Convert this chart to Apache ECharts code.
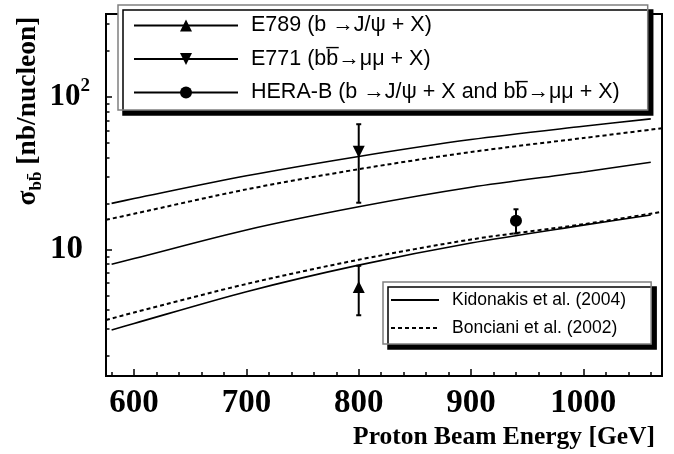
<!DOCTYPE html>
<html><head><meta charset="utf-8">
<script src="https://cdn.jsdelivr.net/npm/echarts@6/dist/echarts.min.js"></script>
<style>html,body{margin:0;padding:0;background:#fff}#c{width:674px;height:454px}</style>
</head><body><div id="c"></div>
<script>
// ---- data ----
const energyK = [580, 600, 700, 800, 900, 1000, 1060];
const kidonakisUpper = [20.0, 21.5, 30.3, 40.6, 52.4, 64.0, 71.5];
const kidonakisCentral = [7.98, 8.7, 13.4, 19.0, 25.5, 32.1, 37.2];
const kidonakisLower = [2.96, 3.27, 5.28, 7.88, 11.0, 14.4, 16.8];
const energyB = [575, 600, 700, 800, 900, 1000, 1070];
const boncianiUpper = [15.6, 17.1, 24.7, 33.5, 43.4, 53.6, 62.1];
const boncianiLower = [3.44, 3.86, 5.93, 8.55, 11.6, 14.6, 17.6];

const e789 = [800, 5.66];  const e789Err = [3.7, 7.8];
const e771 = [800, 43.6];  const e771Err = [20.2, 66];
const heraB = [940, 15.4]; const heraBErr = [12.7, 18.3];

const xMajorTicks = [600, 700, 800, 900, 1000];
const xMinorTicks = [580, 620, 640, 660, 680, 720, 740, 760, 780, 820, 840, 860, 880, 920, 940, 960, 980, 1020, 1040, 1060];
const yMajorTicks = [10, 100];
const yMinorTicks = [2, 3, 4, 5, 6, 7, 8, 9, 20, 30, 40, 50, 60, 70, 80, 90, 200, 300];

const nameK = 'Kidonakis et al. (2004)';
const nameB = 'Bonciani et al. (2002)';
const nameE789 = 'E789 (b \u2192J/\u03c8 + X)';
const nameE771 = 'E771 (bb\u0305\u2192\u03bc\u03bc + X)';
const nameHera = 'HERA-B (b \u2192J/\u03c8 + X and bb\u0305\u2192\u03bc\u03bc + X)';

const zip = (xs, ys) => xs.map((x, i) => [x, ys[i]]);
const X0 = 575, X1 = 1070, Y0 = 1.48, Y1 = 348;
const serif = 'Liberation Serif', sans = 'Liberation Sans';

const chart = echarts.init(document.getElementById('c'), null, {renderer: 'canvas'});

function kLine(data) {
  return {type: 'line', name: nameK, data: data, symbol: 'none', smooth: 0.3,
    lineStyle: {color: '#000', width: 1.6, type: 'solid'}, itemStyle: {color: '#000'}, z: 2};
}
function bLine(data) {
  return {type: 'line', name: nameB, data: data, symbol: 'none', smooth: 0.3,
    lineStyle: {color: '#000', width: 2, type: [4, 3]}, itemStyle: {color: '#000'}, z: 2};
}
function point(name, d, symbol, rotate) {
  return {type: 'line', name: name, data: [d], symbol: symbol, symbolSize: 12, symbolRotate: rotate || 0,
    lineStyle: {color: '#000', width: 1.6}, itemStyle: {color: '#000'}, z: 5};
}

const axisCommonX = {type: 'value', min: X0, max: X1, position: 'bottom',
  axisLine: {show: false}, splitLine: {show: false}};
const axisCommonY = {type: 'log', logBase: 10, min: Y0, max: Y1, position: 'left',
  axisLine: {show: false}, splitLine: {show: false}};
const noMarker = {color: 'rgba(0,0,0,0)', borderWidth: 0};

chart.setOption({
  animation: false,
  grid: {left: 106, right: 12, top: 14, bottom: 78, show: true, borderColor: '#000', borderWidth: 2, backgroundColor: 'transparent'},
  xAxis: [
    Object.assign({}, axisCommonX, {
      axisTick: {inside: true, length: 7, customValues: xMajorTicks, lineStyle: {color: '#000', width: 1.5}},
      axisLabel: {customValues: xMajorTicks, formatter: v => String(v), fontFamily: serif, fontWeight: 'bold', fontSize: 33, color: '#000', margin: 11}
    }),
    Object.assign({}, axisCommonX, {
      axisTick: {inside: true, length: 4, customValues: xMinorTicks, lineStyle: {color: '#000', width: 1.5}},
      axisLabel: {show: false}
    })
  ],
  yAxis: [
    Object.assign({}, axisCommonY, {
      axisTick: {inside: true, length: 6, customValues: yMajorTicks, lineStyle: {color: '#000', width: 1.5}},
      axisLabel: {customValues: yMajorTicks, margin: 16, color: '#000',
        formatter: v => (Math.round(v) === 100 ? '{m|10}{p|2}' : '{n|10}'),
        rich: {
          n: {fontFamily: serif, fontWeight: 'bold', fontSize: 33, padding: [0, 7, 0, 0]},
          m: {fontFamily: serif, fontWeight: 'bold', fontSize: 31, lineHeight: 40},
          p: {fontFamily: serif, fontWeight: 'bold', fontSize: 19, verticalAlign: 'top', lineHeight: 22}
        }}
    }),
    Object.assign({}, axisCommonY, {
      axisTick: {inside: true, length: 3.5, customValues: yMinorTicks, lineStyle: {color: '#000', width: 1.5}},
      axisLabel: {show: false}
    })
  ],
  legend: [
    {data: [nameE789, nameE771, nameHera], orient: 'vertical', left: 118, top: 5,
      itemWidth: 104, itemHeight: 15, itemGap: 11.5, padding: [9.5, 28, 6.5, 15],
      backgroundColor: '#fff', borderColor: '#808080', borderWidth: 1.5,
      shadowColor: '#000', shadowOffsetX: 5, shadowOffsetY: 5, shadowBlur: 0,
      selectedMode: false,
      textStyle: {fontFamily: sans, fontSize: 21.5, lineHeight: 21, color: '#000', padding: [0, 0, 0, 8]}},
    {data: [{name: nameK, itemStyle: noMarker}, {name: nameB, itemStyle: noMarker}], orient: 'vertical', left: 383, top: 282,
      itemWidth: 48, itemHeight: 12, itemGap: 10, padding: [9, 25, 7, 7],
      backgroundColor: '#fff', borderColor: '#808080', borderWidth: 1.5,
      shadowColor: '#000', shadowOffsetX: 5, shadowOffsetY: 5, shadowBlur: 0,
      selectedMode: false,
      textStyle: {fontFamily: sans, fontSize: 17.5, lineHeight: 18, color: '#000', padding: [0, 0, 0, 8]}}
  ],
  graphic: [
    {type: 'text', x: 28, y: 111, rotation: Math.PI / 2,
      style: {text: '{m|\u03c3}{s|bb\u0304}{m| [nb/nucleon]}', align: 'center', verticalAlign: 'middle', fill: '#000',
        rich: {
          m: {fontFamily: serif, fontWeight: 'bold', fontSize: 27.5, lineHeight: 34},
          s: {fontFamily: serif, fontWeight: 'bold', fontSize: 17, lineHeight: 14, verticalAlign: 'bottom'}
        }}},
    {type: 'text', right: 19, top: 424,
      style: {text: 'Proton Beam Energy [GeV]', fontFamily: serif, fontWeight: 'bold', fontSize: 25.5, fill: '#000'}}
  ],
  series: [
    kLine(zip(energyK, kidonakisUpper)),
    kLine(zip(energyK, kidonakisCentral)),
    kLine(zip(energyK, kidonakisLower)),
    bLine(zip(energyB, boncianiUpper)),
    bLine(zip(energyB, boncianiLower)),
    {type: 'custom', name: 'errors', z: 4,
      data: [[e789[0], e789Err[0], e789Err[1]], [e771[0], e771Err[0], e771Err[1]], [heraB[0], heraBErr[0], heraBErr[1]]],
      encode: {x: 0, y: [1, 2]},
      renderItem: function (params, api) {
        const x = api.value(0);
        const p1 = api.coord([x, api.value(1)]);
        const p2 = api.coord([x, api.value(2)]);
        const st = {stroke: '#000', lineWidth: 2};
        const cw = 2.5;
        return {type: 'group', children: [
          {type: 'line', shape: {x1: p1[0], y1: p1[1], x2: p2[0], y2: p2[1]}, style: st},
          {type: 'line', shape: {x1: p1[0] - cw, y1: p1[1], x2: p1[0] + cw, y2: p1[1]}, style: st},
          {type: 'line', shape: {x1: p2[0] - cw, y1: p2[1], x2: p2[0] + cw, y2: p2[1]}, style: st}
        ]};
      }},
    point(nameE789, e789, 'triangle', 0),
    point(nameE771, e771, 'triangle', 180),
    point(nameHera, heraB, 'circle', 0)
  ]
});
</script>
</body></html>
